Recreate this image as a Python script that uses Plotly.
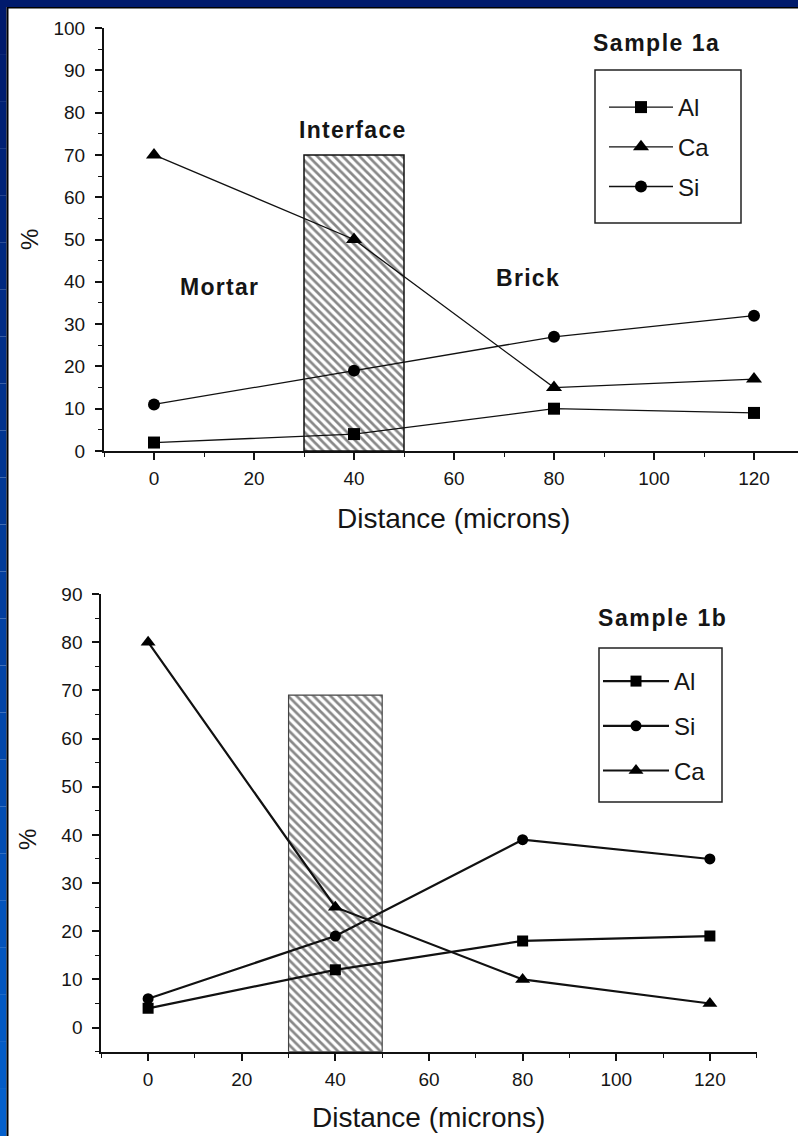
import plotly.graph_objects as go

# ---------------- data ----------------
distance = [0, 40, 80, 120]

# Sample 1a
al_1a = [2, 4, 10, 9]
ca_1a = [70, 50, 15, 17]
si_1a = [11, 19, 27, 32]

# Sample 1b
al_1b = [4, 12, 18, 19]
si_1b = [6, 19, 39, 35]
ca_1b = [80, 25, 10, 5]

interface_x = [30, 50]          # interface zone (microns)
interface_top_1a = 70
interface_base_1a = 0
interface_top_1b = 69
interface_base_1b = -5

x_ticks = [0, 20, 40, 60, 80, 100, 120]
y_ticks_1a = [0, 10, 20, 30, 40, 50, 60, 70, 80, 90, 100]
y_ticks_1b = [0, 10, 20, 30, 40, 50, 60, 70, 80, 90]

# ---------------- helpers ----------------
W, H = 798, 1136
FONT = "Liberation Sans, Arial, sans-serif"
TXT = "#151515"


def px(x):
    return x / W


def py(y):
    return 1 - y / H


fig = go.Figure()

# interface hatched bars
mid = (interface_x[0] + interface_x[1]) / 2
wid = interface_x[1] - interface_x[0]
pattern = dict(shape="\\", fgcolor="#111111", bgcolor="white", size=6, solidity=0.45)
fig.add_trace(go.Bar(x=[mid], y=[interface_top_1a - interface_base_1a], base=[interface_base_1a],
                     width=[wid], marker=dict(color="white", pattern=pattern,
                                              line=dict(color="#111", width=1.5)),
                     showlegend=False, xaxis="x", yaxis="y", hoverinfo="skip"))
fig.add_trace(go.Bar(x=[mid], y=[interface_top_1b - interface_base_1b], base=[interface_base_1b],
                     width=[wid], marker=dict(color="white", pattern=pattern,
                                              line=dict(color="#444", width=1.2)),
                     showlegend=False, xaxis="x2", yaxis="y2", hoverinfo="skip"))

# series
sym = {"Al": "square", "Ca": "triangle-up", "Si": "circle"}
msize = {"Al": 12, "Ca": 14, "Si": 12}
for name, vals in [("Al", al_1a), ("Ca", ca_1a), ("Si", si_1a)]:
    fig.add_trace(go.Scatter(x=distance, y=vals, name=name, mode="lines+markers",
                             line=dict(color="#111", width=1.3),
                             marker=dict(symbol=sym[name], size=msize[name], color="black"),
                             xaxis="x", yaxis="y", legend="legend", legendgroup="a" + name))

for name, vals in [("Al", al_1b), ("Si", si_1b), ("Ca", ca_1b)]:
    fig.add_trace(go.Scatter(x=distance, y=vals, name=name, mode="lines+markers",
                             line=dict(color="#111", width=2.2),
                             marker=dict(symbol=sym[name], size=msize[name] - 1, color="black"),
                             xaxis="x2", yaxis="y2", legend="legend2", legendgroup="b" + name))

axis_common = dict(showline=True, linecolor="#111", linewidth=2, showgrid=False, zeroline=False,
                   ticks="outside", ticklen=7, tickwidth=1.5, tickcolor="#111",
                   tickfont=dict(family=FONT, size=19, color=TXT), automargin=False)
minor_x = dict(dtick=10, tick0=0, ticks="outside", ticklen=4, tickcolor="#111", tickwidth=1.2)
minor_y = dict(dtick=5, tick0=0, ticks="outside", ticklen=4, tickcolor="#111", tickwidth=1.2)

fig.update_layout(
    width=W, height=H,
    margin=dict(l=0, r=0, t=0, b=0),
    paper_bgcolor="white", plot_bgcolor="rgba(0,0,0,0)",
    barmode="overlay",
    xaxis=dict(domain=[px(104), 1], range=[-10, 128.8], anchor="y", tickvals=x_ticks,
               minor=minor_x, ticklabelstandoff=2, **axis_common),
    yaxis=dict(domain=[py(451), py(28)], range=[0, 100], anchor="x", tickvals=y_ticks_1a,
               minor=minor_y, ticklabelstandoff=6, **axis_common),
    xaxis2=dict(domain=[px(101.3), px(756.7)], range=[-10, 130], anchor="y2", tickvals=x_ticks,
                minor=minor_x, ticklabelstandoff=2, **axis_common),
    yaxis2=dict(domain=[py(1051.7), py(594)], range=[-5, 90], anchor="x2", tickvals=y_ticks_1b,
                minor=minor_y, ticklabelstandoff=6, **axis_common),
    legend=dict(x=px(604), y=py(85), xanchor="left", yanchor="top", bgcolor="rgba(0,0,0,0)",
                borderwidth=0, font=dict(family=FONT, size=24, color=TXT), itemwidth=64,
                tracegroupgap=5.5),
    legend2=dict(x=px(598), y=py(659), xanchor="left", yanchor="top", bgcolor="rgba(0,0,0,0)",
                 borderwidth=0, font=dict(family=FONT, size=24, color=TXT), itemwidth=66,
                 tracegroupgap=10.5),
    showlegend=True,
)

# annotations
ann = []


def add_text(text, x, y, size, bold=False, angle=0, spacing=None):
    t = ("<b>%s</b>" % text) if bold else text
    if spacing:
        t = '<span style="letter-spacing:%spx">%s</span>' % (spacing, t)
    ann.append(dict(text=t, x=px(x), y=py(y),
                    xref="paper", yref="paper", showarrow=False, textangle=angle,
                    xanchor="center", yanchor="middle",
                    font=dict(family=FONT, size=size, color=TXT)))


add_text("Sample 1a", 656, 43, 23, True, spacing=1.5)
add_text("Interface", 353, 130, 23, True, spacing=1.3)
add_text("Mortar", 219, 287, 23, True, spacing=1.3)
add_text("Brick", 528, 278, 23, True, spacing=1.3)
add_text("Distance (microns)", 453, 518, 28)
add_text("%", 30, 240, 24, angle=-90)
add_text("Sample 1b", 662, 618, 23, True, spacing=1.6)
add_text("Distance (microns)", 428, 1117, 28)
add_text("%", 27, 840, 24, angle=-90)
fig.update_layout(annotations=ann)

# shapes: frame and legend boxes
shapes = []
shapes.append(dict(type="rect", xref="paper", yref="paper", x0=px(595), x1=px(741), y0=py(223), y1=py(70),
                   line=dict(color="#222", width=1.5)))
shapes.append(dict(type="rect", xref="paper", yref="paper", x0=px(599), x1=px(722), y0=py(802), y1=py(648),
                   line=dict(color="#222", width=1.5)))
# top navy band
shapes.append(dict(type="rect", xref="paper", yref="paper", x0=0, x1=1, y0=py(7), y1=1,
                   fillcolor="#001a6c", line=dict(width=0), layer="above"))
shapes.append(dict(type="rect", xref="paper", yref="paper", x0=px(7), x1=1, y0=py(8.5), y1=py(7),
                   fillcolor="#000000", line=dict(width=0), layer="above"))
# left gradient strip
n = 24
c0 = (0, 26, 108)
c1 = (4, 96, 204)
for i in range(n):
    t = i / (n - 1)
    c = tuple(int(c0[k] + (c1[k] - c0[k]) * t) for k in range(3))
    shapes.append(dict(type="rect", xref="paper", yref="paper", x0=0, x1=px(6.5),
                       y0=py(7 + (H - 7) * (i + 1) / n), y1=py(7 + (H - 7) * i / n),
                       fillcolor="rgb(%d,%d,%d)" % c, line=dict(width=0), layer="above"))
shapes.append(dict(type="rect", xref="paper", yref="paper", x0=px(6.5), x1=px(8.5), y0=0, y1=py(7),
                   fillcolor="#000000", line=dict(width=0), layer="above"))
fig.update_layout(shapes=shapes)

fig.write_html("out.html", config={"displayModeBar": False},
               post_script="document.body.style.margin='0';")
